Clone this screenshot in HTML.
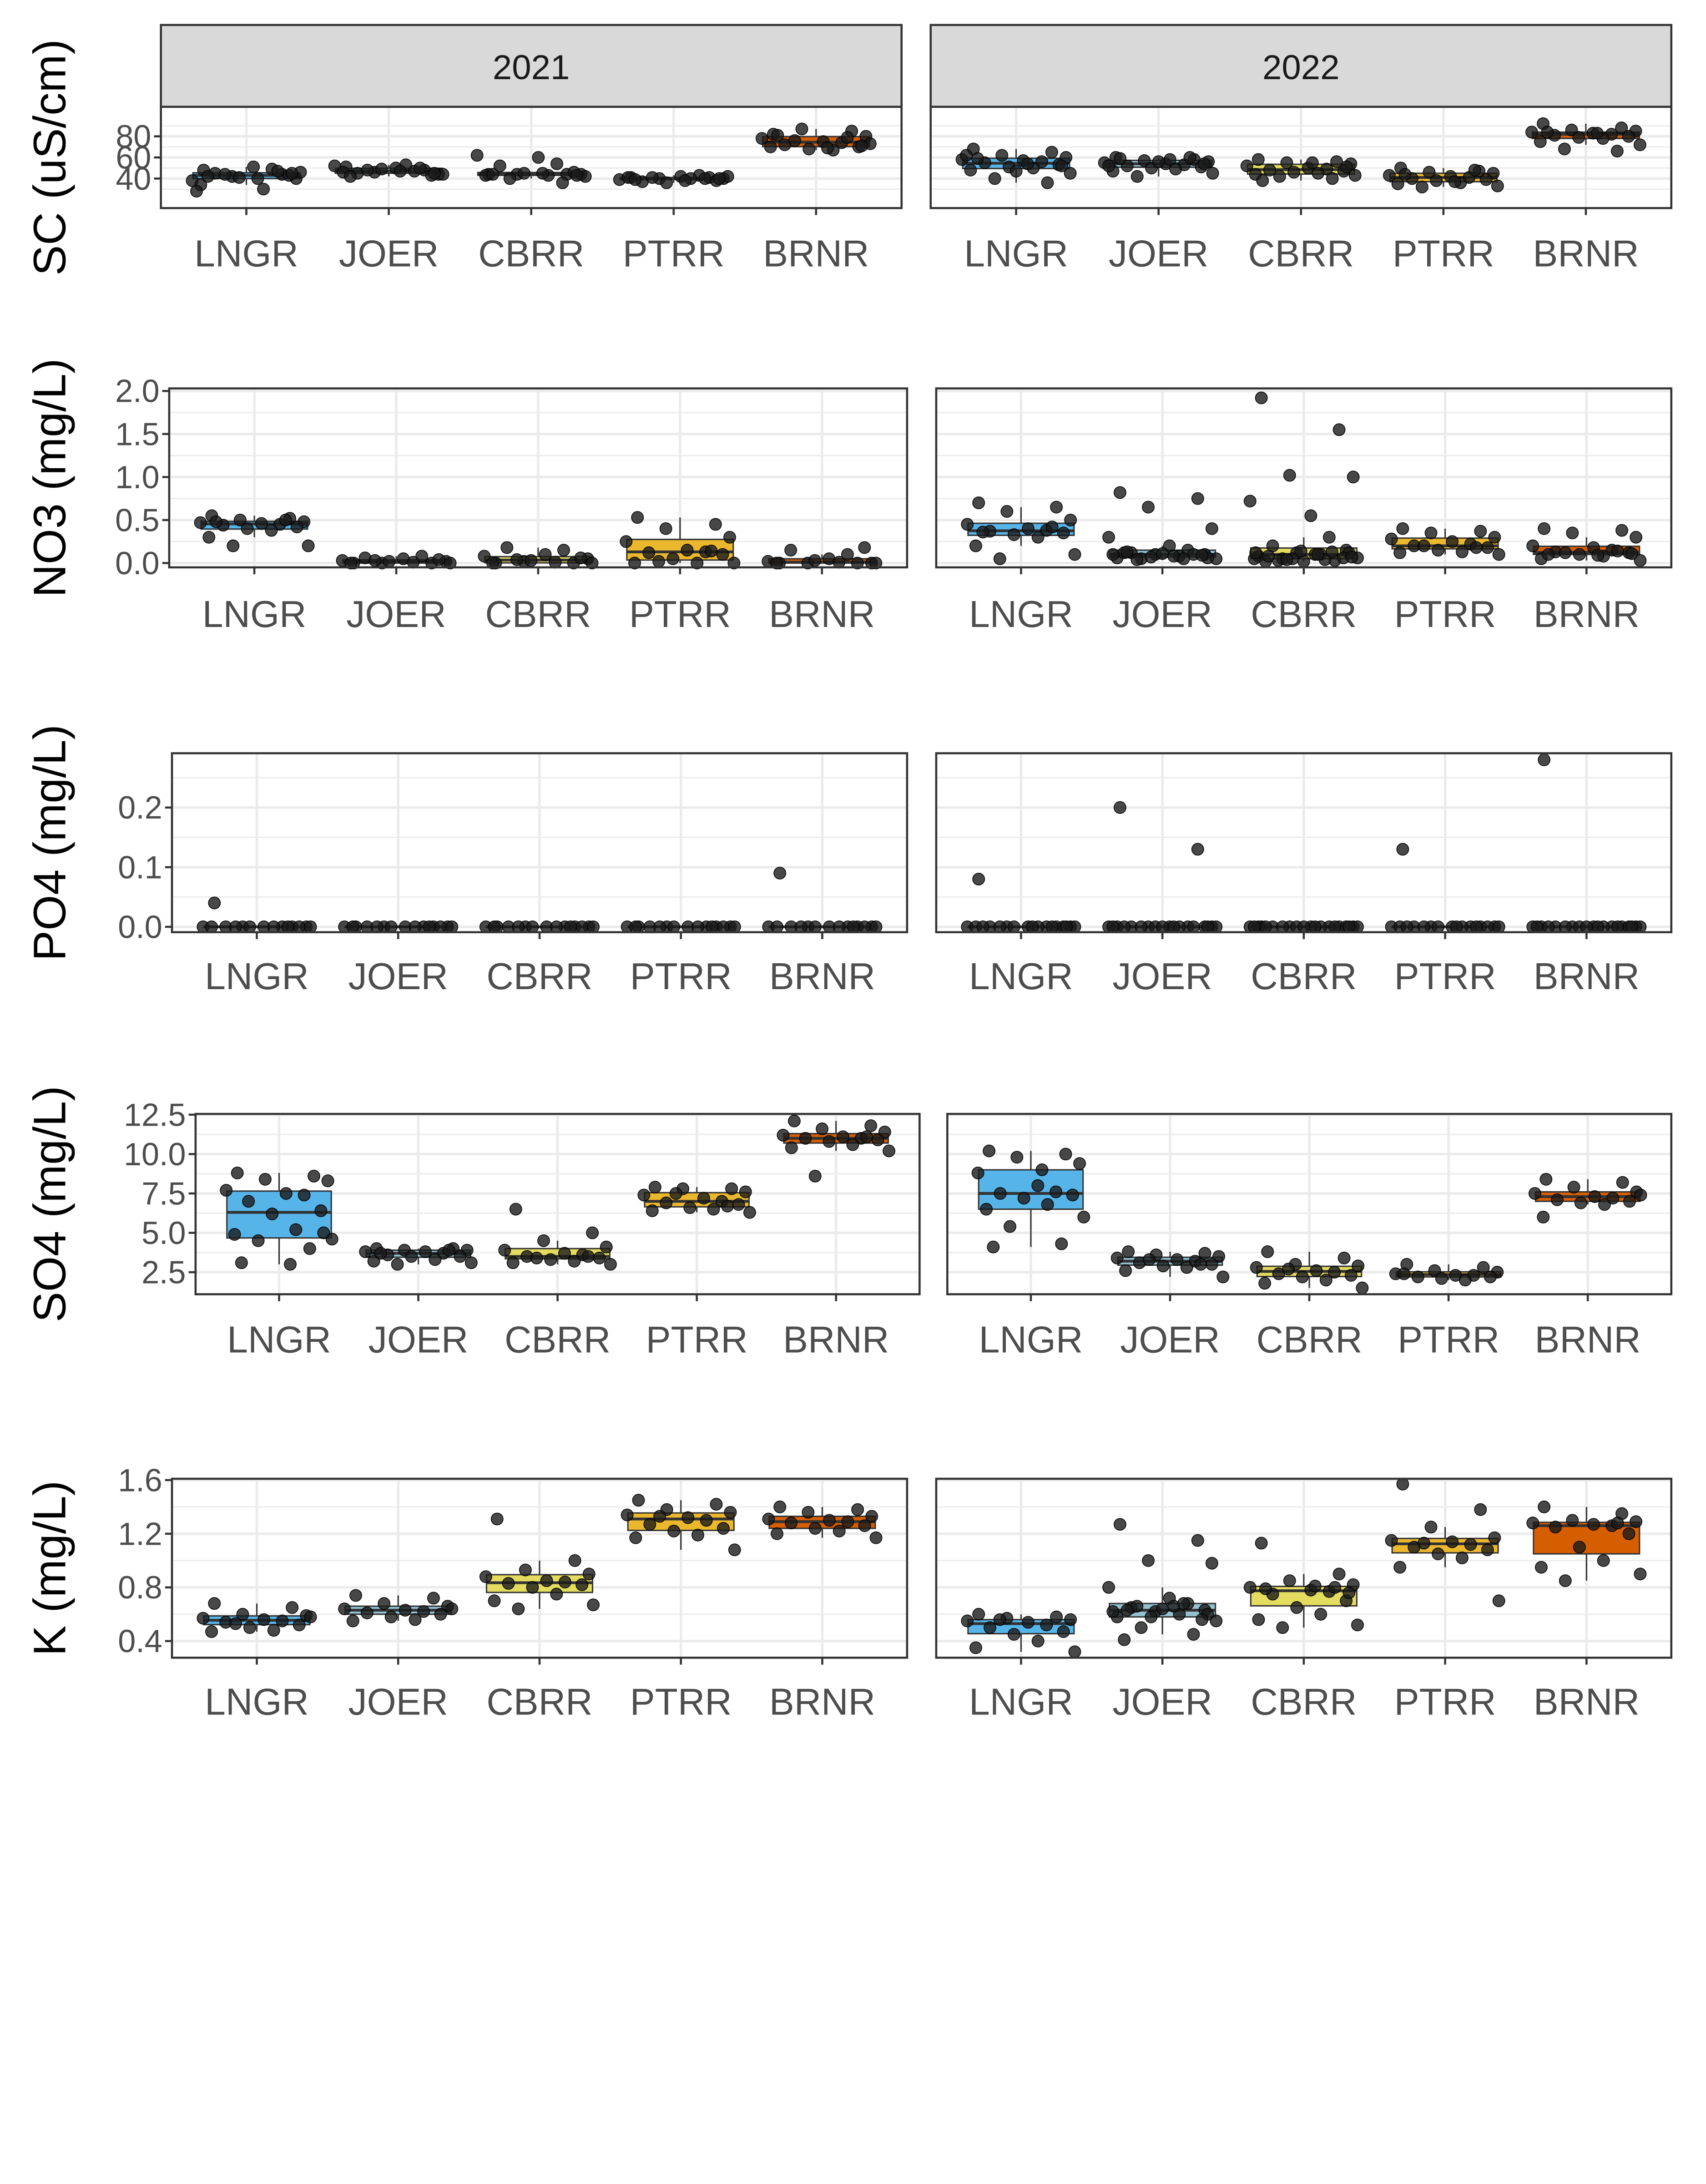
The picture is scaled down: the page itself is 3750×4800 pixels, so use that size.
<!DOCTYPE html>
<html><head><meta charset="utf-8"><style>
html,body{margin:0;padding:0;background:#fff}
svg{display:block}
text{font-family:"Liberation Sans",Arial,sans-serif}
</style></head><body>
<svg id="chart" xmlns="http://www.w3.org/2000/svg" width="3750" height="4800" viewBox="0 0 1230 1574.4">
<rect width="1230" height="1574.4" fill="#fff"/>
<g id="strip-2021">
<rect x="116" y="18" width="534" height="59" fill="#d9d9d9" stroke="#333" stroke-width="1.5"/>
<text x="383" y="57" font-size="25" text-anchor="middle" fill="#1a1a1a">2021</text></g>
<g id="strip-2022">
<rect x="671" y="18" width="534" height="59" fill="#d9d9d9" stroke="#333" stroke-width="1.5"/>
<text x="938" y="57" font-size="25" text-anchor="middle" fill="#1a1a1a">2022</text></g>
</svg>
<script>
const categories = ["LNGR","JOER","CBRR","PTRR","BRNR"];
const colors = ["#56B4E9","#93C1D0","#E3DC5F","#EBB82D","#D55E00"];
// SC (uS/cm)
const sc2021 = [[48,44,42,40,38,51,49,45,43,41,30,34,46,44,47,42,40,45,28],[51,48,46,44,52,50,47,45,43,49,53,46,44,48,50,42,47,45],[44,44,44,44,62,60,54,52,46,45,43,43,42,40,36,44,45,43],[41,41,40,40,39,42,43,37,38,36,40,41,42,41,40,39,38,40],[82,85,87,80,78,75,74,72,70,68,67,70,73,76,79,81,69,71]];
const sc2022 = [[68,65,62,60,58,57,56,55,53,51,50,48,45,40,36,59,54,52,62,47],[60,58,57,56,55,54,53,52,51,50,49,47,45,42,60,59,58,54,52,56],[58,56,55,54,52,50,49,48,47,46,45,44,43,42,40,38,55,51],[50,47,46,45,43,42,41,40,39,38,36,35,33,32,48,44,37],[92,88,86,85,84,83,82,81,80,79,78,75,72,68,66,84,83]];
const scTicks = [40,60,80];
// NO3 (mg/L)
const no32021 = [[0.55,0.52,0.5,0.48,0.47,0.46,0.45,0.44,0.42,0.4,0.38,0.3,0.2,0.2,0.5,0.48],[0,0,0,0.02,0.03,0.05,0.08,0.06,0.04,0.02,0.01,0,0,0.03],[0,0,0.02,0.05,0.08,0.1,0.15,0.18,0.06,0.03,0.01,0,0,0.04],[0.53,0.45,0.4,0.3,0.25,0.15,0.13,0.12,0.1,0.05,0,0,0,0.02,0.14],[0,0,0,0,0.02,0.05,0.1,0.15,0.18,0.03,0.01,0,0]];
const no32022 = [[0.7,0.65,0.6,0.5,0.45,0.4,0.38,0.37,0.35,0.33,0.3,0.2,0.1,0.05,0.42,0.36],[0.82,0.75,0.65,0.4,0.3,0.2,0.15,0.12,0.1,0.1,0.08,0.06,0.05,0.05,0.1,0.12,0.08,0.06,0.1,0.11,0.04,0.05,0.07,0.09,0.13],[1.92,1.55,1.02,1.0,0.72,0.55,0.3,0.2,0.15,0.12,0.1,0.08,0.06,0.05,0.03,0.02,0.1,0.12,0.05,0.02,0.03,0.04,0.05,0.06,0.08,0.1,0.12,0.13,0.14,0.07,0.04],[0.4,0.37,0.35,0.3,0.28,0.25,0.22,0.2,0.18,0.15,0.13,0.12,0.1,0.2,0.18],[0.4,0.38,0.35,0.3,0.2,0.18,0.15,0.13,0.12,0.1,0.08,0.05,0.03,0.12,0.14,0.1,0.09,0.11]];
const no3Ticks = ["0.0","0.5","1.0","1.5","2.0"];
// PO4 (mg/L)
const po42021 = [[0.04,0,0,0,0,0,0,0,0,0,0,0,0,0,0],[0,0,0,0,0,0,0,0,0,0,0,0,0,0,0],[0,0,0,0,0,0,0,0,0,0,0,0,0,0,0],[0,0,0,0,0,0,0,0,0,0,0,0,0,0,0],[0.09,0,0,0,0,0,0,0,0,0,0,0,0,0,0]];
const po42022 = [[0.08,0,0,0,0,0,0,0,0,0,0,0,0,0,0,0,0,0],[0.2,0.13,0,0,0,0,0,0,0,0,0,0,0,0,0,0,0,0,0,0],[0,0,0,0,0,0,0,0,0,0,0,0,0,0,0,0,0,0,0,0],[0.13,0,0,0,0,0,0,0,0,0,0,0,0,0,0,0,0],[0.28,0,0,0,0,0,0,0,0,0,0,0,0,0,0,0,0,0,0,0]];
const po4Ticks = ["0.0","0.1","0.2"];
// SO4 (mg/L)
const so42021 = [[8.8,8.6,8.4,8.3,7.7,7.5,7.4,7.0,6.4,6.2,5.2,4.9,4.6,4.5,4.0,3.1,3.0,5.0],[4.0,4.0,3.9,3.9,3.8,3.8,3.7,3.6,3.5,3.5,3.3,3.2,3.1,3.0,3.9,3.7],[6.5,5.0,4.5,4.1,3.9,3.7,3.6,3.5,3.4,3.3,3.2,3.1,3.0,3.4,3.5],[7.9,7.8,7.8,7.6,7.4,7.2,7.0,6.9,6.8,6.6,6.5,6.4,6.3,7.5,6.7],[12.1,11.8,11.6,11.4,11.2,11.1,11.0,11.0,10.9,10.8,10.6,10.4,10.2,8.6,11.1]];
const so42022 = [[10.2,10.0,9.8,9.4,8.8,8.0,7.6,7.5,7.4,7.2,6.8,6.5,6.0,5.4,4.3,4.1,9.0],[3.8,3.7,3.6,3.5,3.4,3.3,3.2,3.1,3.0,2.9,2.8,2.6,2.2,3.3,3.0],[3.8,3.4,3.0,2.9,2.8,2.6,2.5,2.4,2.3,2.2,2.0,1.8,1.5,2.7],[3.0,2.8,2.6,2.5,2.4,2.3,2.3,2.2,2.2,2.1,2.0,2.4],[8.4,8.2,7.9,7.6,7.5,7.3,7.2,7.1,7.0,6.9,6.8,6.0,7.4]];
const so4Ticks = ["2.5","5.0","7.5","10.0","12.5"];
// K (mg/L)
const k2021 = [[0.68,0.65,0.6,0.59,0.57,0.56,0.55,0.54,0.52,0.5,0.48,0.47,0.58,0.53],[0.74,0.72,0.68,0.66,0.64,0.63,0.62,0.61,0.6,0.58,0.56,0.55,0.64],[1.31,1.0,0.93,0.9,0.88,0.85,0.84,0.83,0.82,0.8,0.75,0.7,0.67,0.64],[1.45,1.42,1.38,1.36,1.34,1.32,1.3,1.27,1.24,1.22,1.19,1.17,1.08,1.33],[1.4,1.38,1.36,1.33,1.31,1.3,1.29,1.28,1.26,1.24,1.22,1.2,1.17]];
const k2022 = [[0.6,0.58,0.57,0.56,0.55,0.54,0.52,0.5,0.47,0.45,0.4,0.35,0.32,0.56],[1.27,1.15,1.0,0.98,0.8,0.72,0.68,0.65,0.63,0.62,0.6,0.58,0.55,0.5,0.45,0.41,0.66,0.6,0.62,0.64,0.66,0.68,0.58,0.56,0.63],[1.13,0.9,0.85,0.82,0.8,0.78,0.77,0.75,0.7,0.65,0.6,0.56,0.52,0.5,0.8,0.79,0.81,0.76],[1.57,1.38,1.25,1.17,1.15,1.14,1.12,1.1,1.08,1.05,1.02,0.95,0.7,1.13],[1.4,1.35,1.3,1.29,1.28,1.27,1.26,1.25,1.2,1.1,1.0,0.95,0.9,0.85,1.28]];
const kTicks = ["0.4","0.8","1.2","1.6"];

const NS="http://www.w3.org/2000/svg";
const svg=document.getElementById('chart');
function mk(tag,attrs,parent){const e=document.createElementNS(NS,tag);for(const k in attrs)e.setAttribute(k,attrs[k]);(parent||svg).appendChild(e);return e;}
function quant(s,p){const h=(s.length-1)*p;const lo=Math.floor(h),hi=Math.ceil(h);return s[lo]+(s[hi]-s[lo])*(h-lo);}
const jit=[-0.3,0.25,-0.1,0.35,-0.38,0.05,0.18,-0.22,0.3,-0.05,0.12,-0.32,0.38,-0.15,0.22,-0.27,0.08,0.32,-0.35,0.0,-0.18,0.15,-0.08,0.28,-0.25,0.1,-0.34,0.2,-0.02,0.34,-0.12];

const rows=[
 {key:'sc',title:'SC (uS/cm)',data:[sc2021,sc2022],ticks:scTicks,y0:77,y1:150,dmin:12,dmax:108,L:[116,650],R:[671,1205],minor:[30,50,70,90],lab:182},
 {key:'no3',title:'NO3 (mg/L)',data:[no32021,no32022],ticks:no3Ticks,y0:280,y1:409,dmin:-0.05,dmax:2.03,L:[122,654],R:[675,1205],minor:[0.25,0.75,1.25,1.75],lab:442},
 {key:'po4',title:'PO4 (mg/L)',data:[po42021,po42022],ticks:po4Ticks,y0:543,y1:672,dmin:-0.009,dmax:0.291,L:[124,654],R:[675,1205],minor:[0.05,0.15,0.25],lab:703},
 {key:'so4',title:'SO4 (mg/L)',data:[so42021,so42022],ticks:so4Ticks,y0:803,y1:933,dmin:1.1,dmax:12.55,L:[141,663],R:[683,1205],minor:[3.75,6.25,8.75,11.25],lab:965},
 {key:'k',title:'K (mg/L)',data:[k2021,k2022],ticks:kTicks,y0:1066,y1:1195,dmin:0.276,dmax:1.61,L:[124,654],R:[675,1205],minor:[0.6,1.0,1.4],lab:1226}
];
rows.forEach(r=>{
 const ys=v=>r.y1-(v-r.dmin)/(r.dmax-r.dmin)*(r.y1-r.y0);
 const t=mk('text',{x:0,y:0,'font-size':33,'text-anchor':'middle',fill:'#000',transform:`translate(47,${(r.y0+r.y1)/2}) rotate(-90)`});
 
 
 t.textContent=r.title;
 [r.L,r.R].forEach((px,pi)=>{
  const yr=pi===0?'2021':'2022';
  const g=mk('g',{});
  
  
  const w=px[1]-px[0],step=w/5.2;
  const xs=i=>px[0]+(0.6+i)*step;
  mk('rect',{x:px[0],y:r.y0,width:w,height:r.y1-r.y0,fill:'#fff'},g);
  r.minor.forEach(v=>mk('line',{x1:px[0],x2:px[1],y1:ys(v),y2:ys(v),stroke:'#ebebeb','stroke-width':0.9},g));
  r.ticks.forEach(v=>mk('line',{x1:px[0],x2:px[1],y1:ys(+v),y2:ys(+v),stroke:'#ebebeb','stroke-width':1.8},g));
  categories.forEach((c,i)=>mk('line',{x1:xs(i),x2:xs(i),y1:r.y0,y2:r.y1,stroke:'#ebebeb','stroke-width':1.8},g));
  categories.forEach((c,i)=>{
   const vals=r.data[pi][i];const s=[...vals].sort((a,b)=>a-b);
   const q1=quant(s,0.25),md=quant(s,0.5),q3=quant(s,0.75),iqr=q3-q1;
   const wl=Math.min(...s.filter(v=>v>=q1-1.5*iqr)),wh=Math.max(...s.filter(v=>v<=q3+1.5*iqr));
   const bg=mk('g',{},g);
   
   
   const x=xs(i),bw=step*0.75;
   mk('line',{x1:x,x2:x,y1:ys(wh),y2:ys(q3),stroke:'#333','stroke-width':1},bg);
   mk('line',{x1:x,x2:x,y1:ys(q1),y2:ys(wl),stroke:'#333','stroke-width':1},bg);
   mk('rect',{x:x-bw/2,y:ys(q3),width:bw,height:Math.max(0.5,ys(q1)-ys(q3)),fill:colors[i],stroke:'#333','stroke-width':1},bg);
   mk('line',{x1:x-bw/2,x2:x+bw/2,y1:ys(md),y2:ys(md),stroke:'#333','stroke-width':2},bg);
   vals.forEach((v,j)=>{
    const p=mk('circle',{cx:x+jit[j%jit.length]*step,cy:ys(v),r:4.3,fill:'#1a1a1a','fill-opacity':0.8,stroke:'#000','stroke-width':0.5},bg);
    
    
   });
   mk('line',{x1:x,x2:x,y1:r.y1,y2:r.y1+5,stroke:'#333','stroke-width':1.5},g);
   const lt=mk('text',{x:x,y:r.lab+10,'font-size':27,'text-anchor':'middle',fill:'#4d4d4d'},g);
   
   
   lt.textContent=c;
  });
  mk('rect',{x:px[0],y:r.y0,width:w,height:r.y1-r.y0,fill:'none',stroke:'#333','stroke-width':1.5},g);
  if(pi===0){r.ticks.forEach(v=>{
   mk('line',{x1:px[0]-5,x2:px[0],y1:ys(+v),y2:ys(+v),stroke:'#333','stroke-width':1.5},g);
   const tt=mk('text',{x:px[0]-7,y:ys(+v)+8,'font-size':23,'text-anchor':'end',fill:'#4d4d4d'},g);
   
   
   tt.textContent=v;
  });}
 });
});
</script>
</body></html>
